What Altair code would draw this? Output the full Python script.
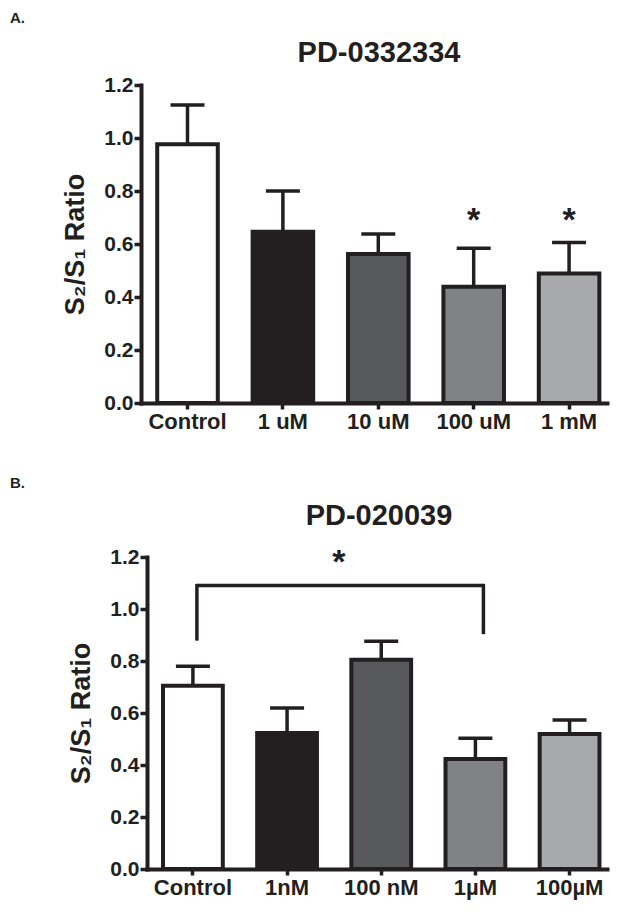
import altair as alt
import pandas as pd

FONT = "Liberation Sans"
INK = "#231f20"

# ---- Panel A data ----
a_labels = ["Control", "1 uM", "10 uM", "100 uM", "1 mM"]
a_means = [0.976, 0.646, 0.562, 0.439, 0.489]
a_upper = [1.125, 0.800, 0.638, 0.584, 0.606]
a_sig = ["100 uM", "1 mM"]
a_sig_level = [0.722, 0.722]

# ---- Panel B data ----
b_labels = ["Control", "1nM", "100 nM", "1µM", "100µM"]
b_means = [0.705, 0.523, 0.805, 0.423, 0.519]
b_upper = [0.780, 0.619, 0.876, 0.503, 0.573]
b_bracket_ends = ["Control", "1µM"]
b_bracket_level = [1.09, 1.09]
b_bracket_feet = [0.885, 0.910]
b_star_level = [1.21]

fills = ["#ffffff", "#231f20", "#58595b", "#808285", "#a7a9ac"]
y_ticks = [0.0, 0.2, 0.4, 0.6, 0.8, 1.0, 1.2]

W = 466


def xenc(field, labels, xrange=None, axis=True):
    sc = dict(domain=labels, paddingInner=0.365, paddingOuter=0.125, align=0.68)
    if xrange is not None:
        sc["range"] = xrange
    if axis:
        return alt.X(field, scale=alt.Scale(**sc),
                     axis=alt.Axis(title=None, labelAngle=0, tickSize=6, labelPadding=2))
    return alt.X(field, scale=alt.Scale(**sc))


def panel(labels, means, upper, title, letter, height, xrange=None, yoffset=0,
          letter_y=-62, title_y=-23):
    df = pd.DataFrame({"cond": labels, "mean": means, "upper": upper, "fill": fills})
    x = xenc("cond:N", labels, xrange)
    y = alt.Y("mean:Q", scale=alt.Scale(domain=[0, 1.2], nice=False),
              axis=alt.Axis(values=y_ticks, format=".1f", title="S₂/S₁ Ratio",
                            tickSize=7, labelPadding=1, titlePadding=14,
                            offset=yoffset))
    base = alt.Chart(df)
    bars = base.mark_bar(stroke=INK, strokeWidth=4, strokeJoin="miter").encode(
        x=x, y=y, fill=alt.Fill("fill:N", scale=None))
    err = base.mark_rule(color=INK, strokeWidth=3.5).encode(
        x=xenc("cond:N", labels, xrange, False), y="mean:Q", y2="upper:Q")
    cap = base.mark_tick(orient="horizontal", size=34, thickness=3.5, color=INK,
                         opacity=1).encode(
        x=xenc("cond:N", labels, xrange, False), y="upper:Q")
    let = alt.Chart(pd.DataFrame({"t": [letter]})).mark_text(
        align="left", baseline="alphabetic", fontSize=15, fontWeight="bold",
        font=FONT, color=INK).encode(x=alt.value(-131), y=alt.value(letter_y), text="t:N")
    ttl = alt.Chart(pd.DataFrame({"t": [title]})).mark_text(
        align="center", baseline="alphabetic", fontSize=29, fontWeight="bold",
        font=FONT, color=INK).encode(x=alt.value(238), y=alt.value(title_y), text="t:N")
    return [bars, err, cap, let, ttl]


layers_a = panel(a_labels, a_means, a_upper, "PD-0332334", "A.", 318)
star_a = alt.Chart(pd.DataFrame({"cond": a_sig, "lvl": a_sig_level, "t": ["*", "*"]})).mark_text(
    fontSize=34, fontWeight="bold", font=FONT, color=INK, baseline="alphabetic", dy=19).encode(
    x=xenc("cond:N", a_labels, None, False), y="lvl:Q", text="t:N")
chart_a = alt.layer(*layers_a, star_a).properties(width=W, height=318)

BR = [6, W]
layers_b = panel(b_labels, b_means, b_upper, "PD-020039", "B.", 312,
                 xrange=BR, yoffset=-6, letter_y=-69, title_y=-32)
br_h = alt.Chart(pd.DataFrame({"cond": [b_bracket_ends[0]], "cond2": [b_bracket_ends[1]],
                               "lvl": [b_bracket_level[0]]})).mark_rule(
    color=INK, strokeWidth=3.5, xOffset=4, x2Offset=8).encode(
    x=xenc("cond:N", b_labels, BR, False), x2="cond2:N", y="lvl:Q")
br_left = alt.Chart(pd.DataFrame({"cond": [b_bracket_ends[0]], "lvl": [b_bracket_level[0]],
                                  "foot": [b_bracket_feet[0]]})).mark_rule(
    color=INK, strokeWidth=3.5, strokeCap="square", xOffset=4).encode(
    x=xenc("cond:N", b_labels, BR, False), y="lvl:Q", y2="foot:Q")
br_right = alt.Chart(pd.DataFrame({"cond": [b_bracket_ends[1]], "lvl": [b_bracket_level[1]],
                                   "foot": [b_bracket_feet[1]]})).mark_rule(
    color=INK, strokeWidth=3.5, strokeCap="square", xOffset=8).encode(
    x=xenc("cond:N", b_labels, BR, False), y="lvl:Q", y2="foot:Q")
star_b = alt.Chart(pd.DataFrame({"cond": [b_bracket_ends[0]], "lvl": b_star_level, "t": ["*"]})).mark_text(
    fontSize=34, fontWeight="bold", font=FONT, color=INK, baseline="alphabetic", dy=19,
    dx=146).encode(x=xenc("cond:N", b_labels, BR, False), y="lvl:Q", text="t:N")
chart_b = alt.layer(*layers_b, br_h, br_left, br_right, star_b).properties(width=W, height=312)

chart = alt.vconcat(chart_a, chart_b, spacing=44).properties(
    padding={"left": 2, "top": 3, "right": 5, "bottom": 5}
).configure_view(stroke=None).configure_axis(
    domainColor=INK, domainWidth=4, domainCap="square", tickColor=INK, tickWidth=3.5,
    labelFont=FONT, labelFontSize=21, labelFontWeight="bold", labelColor=INK,
    titleFont=FONT, titleFontSize=27, titleFontWeight="bold", titleColor=INK,
    grid=False
).configure_axisX(labelFontSize=22)

chart.save("out.html", embed_options={"renderer": "svg", "actions": False})
